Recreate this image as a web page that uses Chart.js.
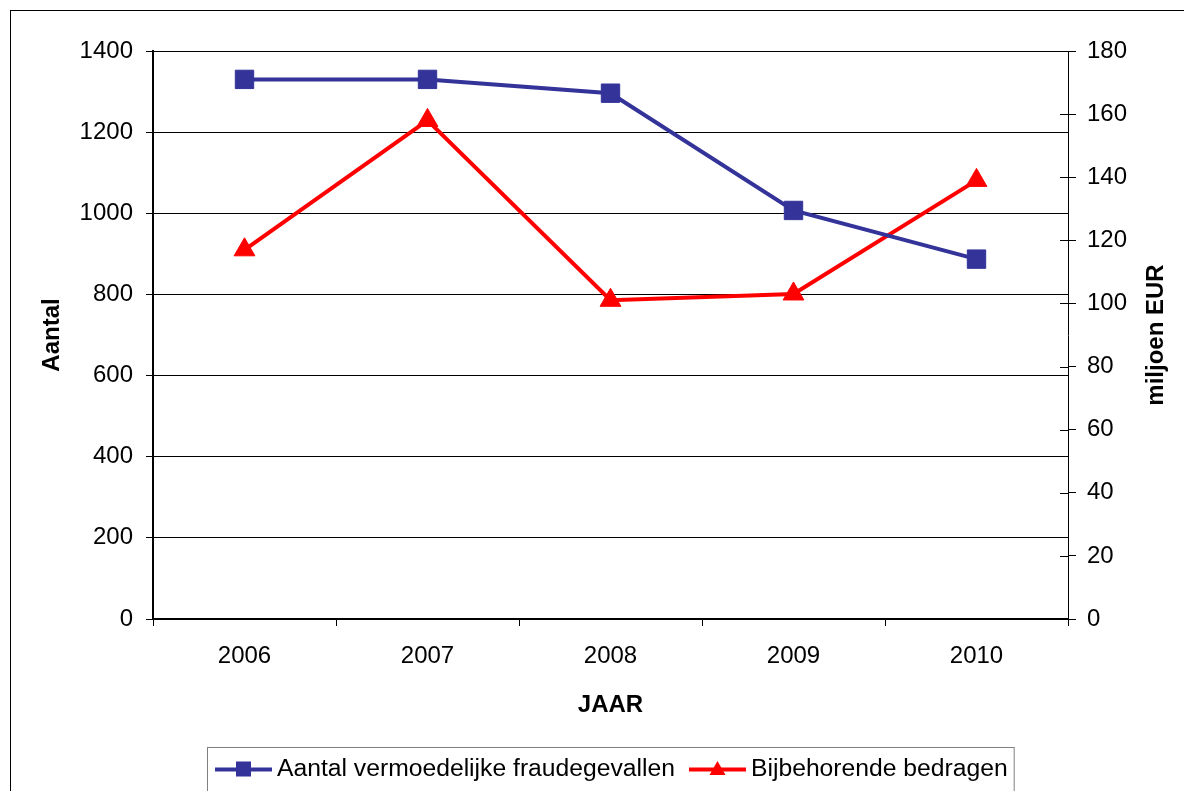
<!DOCTYPE html>
<html>
<head>
<meta charset="utf-8">
<title>Vermoedelijke fraudegevallen 2006-2010</title>
<script src="https://cdn.jsdelivr.net/npm/chart.js@4"></script>
<style>
  html, body { margin: 0; padding: 0; background: #ffffff; }
  #wrap { width: 1184px; height: 791px; position: relative; overflow: hidden; }
  canvas { display: block; }
</style>
</head>
<body>
<div id="wrap"><canvas id="chart" width="1184" height="791"></canvas></div>
<script>
// ---- data ----
const years = ['2006', '2007', '2008', '2009', '2010'];
const fraudCases = [1330, 1330, 1296, 1007, 887];      // Aantal
const amountsMillion = [117, 158, 101, 103, 139];      // miljoen EUR

const seriesLabels = ['Aantal vermoedelijke fraudegevallen', 'Bijbehorende bedragen'];
const axisTitles = { x: 'JAAR', left: 'Aantal', right: 'miljoen EUR' };

const leftRange = { min: 0, max: 1400, step: 200 };
const rightRange = { min: 0, max: 180, step: 20 };

// ---- styling ----
const FONT = "'Liberation Sans', Arial, Helvetica, sans-serif";
const BLUE = '#333399';
const RED = '#ff0000';

// plain integer tick labels (no thousands separator)
const plainNumber = v => String(v);

// outer frame and white background
const framePlugin = {
  id: 'frame',
  beforeDraw(chart) {
    const ctx = chart.ctx;
    ctx.save();
    ctx.fillStyle = '#ffffff';
    ctx.fillRect(0, 0, chart.width, chart.height);
    ctx.strokeStyle = '#000000';
    ctx.lineWidth = 1;
    ctx.strokeRect(10.5, 10.5, chart.width + 20, chart.height + 20);
    ctx.restore();
  }
};

// right axis: ticks crossing the axis line, and a title reading bottom-to-top
const rightAxisPlugin = {
  id: 'rightAxisExtras',
  beforeDatasetsDraw(chart) {
    const s = chart.scales.y1;
    const ctx = chart.ctx;
    ctx.save();
    ctx.strokeStyle = '#000000';
    ctx.lineWidth = 1;
    s.ticks.forEach(t => {
      const y = Math.round(s.getPixelForValue(t.value)) + 0.5;
      ctx.beginPath();
      ctx.moveTo(s.left - 8, y);
      ctx.lineTo(s.left, y);
      ctx.stroke();
    });
    ctx.restore();
  },
  afterDraw(chart) {
    const s = chart.scales.y1;
    const ctx = chart.ctx;
    ctx.save();
    ctx.translate(1156, (s.top + s.bottom) / 2);
    ctx.rotate(-Math.PI / 2);
    ctx.font = 'bold 24px ' + FONT;
    ctx.fillStyle = '#000000';
    ctx.textAlign = 'center';
    ctx.textBaseline = 'middle';
    ctx.fillText(axisTitles.right, 0, 0);
    ctx.restore();
  }
};

// boxed legend below the x axis: line sample with its marker, then the label
const legendPlugin = {
  id: 'boxedLegend',
  afterDraw(chart) {
    const ctx = chart.ctx;
    const boxLeft = 207, boxTop = 747, cy = 769;
    const sampleW = 57, gapText = 5, gapItem = 14;
    ctx.save();
    ctx.font = '24.7px ' + FONT;
    ctx.textBaseline = 'middle';
    ctx.textAlign = 'left';
    let x = boxLeft + 8;
    chart.data.datasets.forEach(ds => {
      ctx.strokeStyle = ds.borderColor;
      ctx.lineWidth = 4;
      ctx.beginPath();
      ctx.moveTo(x, cy + 0.5);
      ctx.lineTo(x + sampleW, cy + 0.5);
      ctx.stroke();
      const mx = x + sampleW / 2;
      ctx.fillStyle = ds.pointBackgroundColor;
      if (ds.pointStyle === 'rect') {
        ctx.fillRect(mx - 7.5, cy - 7.5, 15, 15);
      } else {
        ctx.beginPath();
        ctx.moveTo(mx, cy - 8);
        ctx.lineTo(mx + 8, cy + 6);
        ctx.lineTo(mx - 8, cy + 6);
        ctx.closePath();
        ctx.fill();
      }
      x += sampleW + gapText;
      ctx.fillStyle = '#000000';
      ctx.fillText(ds.label, x, cy);
      x += ctx.measureText(ds.label).width + gapItem;
    });
    const boxRight = x - gapItem + 6;
    ctx.strokeStyle = '#808080';
    ctx.lineWidth = 1;
    ctx.strokeRect(boxLeft + 0.5, boxTop + 0.5, boxRight - boxLeft, 60);
    ctx.restore();
  }
};

new Chart(document.getElementById('chart'), {
  type: 'line',
  data: {
    labels: years,
    datasets: [
      {
        label: seriesLabels[0],
        data: fraudCases,
        yAxisID: 'y',
        borderColor: BLUE,
        backgroundColor: BLUE,
        pointBackgroundColor: BLUE,
        pointBorderColor: BLUE,
        pointStyle: 'rect',
        pointRadius: 13,
        pointHoverRadius: 13,
        pointBorderWidth: 1,
        borderWidth: 4,
        tension: 0,
        fill: false
      },
      {
        label: seriesLabels[1],
        data: amountsMillion,
        yAxisID: 'y1',
        borderColor: RED,
        backgroundColor: RED,
        pointBackgroundColor: RED,
        pointBorderColor: RED,
        pointStyle: 'triangle',
        pointRadius: 12,
        pointHoverRadius: 12,
        pointBorderWidth: 1,
        borderWidth: 4,
        tension: 0,
        fill: false
      }
    ]
  },
  options: {
    responsive: false,
    animation: false,
    devicePixelRatio: 1,
    layout: { padding: { top: 51, left: 0, right: 0, bottom: 71 } },
    plugins: {
      legend: { display: false },
      tooltip: { enabled: false }
    },
    scales: {
      x: {
        type: 'category',
        offset: true,
        grid: {
          offset: true,
          drawOnChartArea: false,
          drawTicks: true,
          tickLength: 7,
          color: '#000000',
          lineWidth: 1
        },
        border: { display: true, color: '#000000', width: 2 },
        ticks: {
          color: '#000000',
          font: { family: FONT, size: 24 },
          padding: 16,
          maxRotation: 0,
          autoSkip: false
        },
        title: {
          display: true,
          text: axisTitles.x,
          color: '#000000',
          font: { family: FONT, size: 24, weight: 'bold' },
          padding: { top: 0, bottom: 0 }
        },
        afterFit(scale) { scale.height = 101; }
      },
      y: {
        position: 'left',
        min: leftRange.min,
        max: leftRange.max,
        ticks: {
          stepSize: leftRange.step,
          callback: plainNumber,
          color: '#000000',
          font: { family: FONT, size: 24 },
          padding: 13
        },
        grid: {
          color: '#000000',
          lineWidth: 1,
          drawTicks: true,
          tickLength: 7
        },
        border: { display: true, color: '#000000', width: 2 },
        title: {
          display: true,
          text: axisTitles.left,
          color: '#000000',
          font: { family: FONT, size: 24, weight: 'bold' },
          padding: { top: 38, bottom: 0 }
        },
        afterFit(scale) { scale.width = 153; }
      },
      y1: {
        position: 'right',
        min: rightRange.min,
        max: rightRange.max,
        ticks: {
          stepSize: rightRange.step,
          callback: plainNumber,
          color: '#000000',
          font: { family: FONT, size: 24 },
          padding: 11
        },
        grid: {
          drawOnChartArea: false,
          drawTicks: true,
          tickLength: 8,
          color: '#000000',
          lineWidth: 1
        },
        border: { display: true, color: '#000000', width: 1 },
        title: { display: false },
        afterFit(scale) { scale.width = 116; }
      }
    }
  },
  plugins: [framePlugin, rightAxisPlugin, legendPlugin]
});
</script>
</body>
</html>
